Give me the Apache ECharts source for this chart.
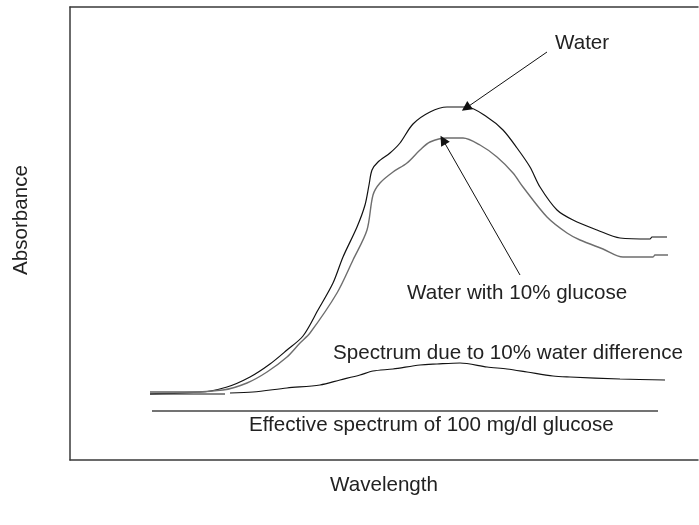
<!DOCTYPE html>
<html>
<head>
<meta charset="utf-8">
<script src="https://cdn.jsdelivr.net/npm/echarts@6/dist/echarts.min.js"></script>
<style>
html,body{margin:0;padding:0;background:#fff;}
#chart{width:699px;height:525px;}
</style>
</head>
<body>
<div id="chart"></div>
<script>
// Arbitrary units: [wavelength index, absorbance]
var water = [[80,68],[130,68],[157,73],[180,83],[200,96],[217,110],[233,124],[248,150],[263,177],[273,203],[287,233],[295,255],[299,275],[302,290],[308,298],[320,307],[330,317],[343,336],[360,348],[377,353],[397,353],[417,343],[433,330],[447,312],[460,293],[470,273],[487,250],[503,240],[527,230],[550,222],[580,221],[582,223],[597,223]];
var glucose = [[80,66],[153,70],[177,77],[197,88],[217,103],[230,117],[240,127],[267,167],[283,200],[297,230],[303,265],[310,277],[323,288],[337,297],[350,310],[360,318],[377,322],[393,322],[410,315],[427,303],[443,287],[453,273],[477,243],[497,227],[510,220],[533,211],[553,203],[583,203],[585,205],[598,205]];
var difference = [[80,66],[155,66],[157,'-'],[160,67],[183,68],[217,72],[250,75],[270,80],[290,85],[303,89],[323,91],[350,95],[367,96],[390,97],[417,93],[437,91],[457,88],[483,84],[500,83],[550,81],[595,80]];
var effective = [[82,49],[588,49]];
var waterArrow = [[477,408],[396,352]];
var glucoseArrow = [[450,185],[373,320]];
var labels = {
  water: 'Water',
  glucose: 'Water with 10% glucose',
  difference: 'Spectrum due to 10% water difference',
  effective: 'Effective spectrum of 100 mg/dl glucose',
  xName: 'Wavelength',
  yName: 'Absorbance'
};

var FONT = 'Liberation Sans, Arial, sans-serif';
var FS = 20.6;
var TXT = '#222';

var chart = echarts.init(document.getElementById('chart'), null, {renderer:'canvas'});
function arrowLine(pts){
  return {
    silent: true,
    symbol: ['none','triangle'],
    symbolSize: 10,
    label: {show:false},
    itemStyle: {color:'#111'},
    lineStyle: {color:'#111', width:1, type:'solid'},
    emphasis: {disabled:true},
    data: [[{coord: pts[0]}, {coord: pts[1]}]]
  };
}
var option = {
  animation: false,
  backgroundColor: '#fff',
  grid: {left:70, right:1, top:7, bottom:65, show:false},
  xAxis: [{
    type:'value', min:0, max:628, position:'bottom',
    name: labels.xName, nameLocation:'middle', nameGap:15,
    nameTextStyle:{fontFamily:FONT, fontSize:FS, color:TXT},
    axisLine:{show:true, onZero:false, lineStyle:{color:'#3a3a3a', width:1.5}},
    axisTick:{show:false}, axisLabel:{show:false}, splitLine:{show:false}
  },{
    type:'value', min:0, max:628, position:'top',
    axisLine:{show:true, onZero:false, lineStyle:{color:'#3a3a3a', width:1.5}},
    axisTick:{show:false}, axisLabel:{show:false}, splitLine:{show:false}
  }],
  yAxis: {
    type:'value', min:0, max:453,
    name: labels.yName, nameLocation:'middle', nameGap:38, nameRotate:90,
    nameTextStyle:{fontFamily:FONT, fontSize:FS, color:TXT, padding:[0,0,0,27]},
    axisLine:{show:true, onZero:false, lineStyle:{color:'#3a3a3a', width:1.5}},
    axisTick:{show:false}, axisLabel:{show:false}, splitLine:{show:false}
  },
  series: [
    {name:labels.water, type:'line', data:water, symbol:'none', smooth:0.3,
     lineStyle:{color:'#111', width:1.2}, markLine: arrowLine(waterArrow)},
    {name:labels.glucose, type:'line', data:glucose, symbol:'none', smooth:0.3,
     lineStyle:{color:'#6e6e6e', width:1.4}, markLine: arrowLine(glucoseArrow)},
    {name:labels.difference, type:'line', data:difference, symbol:'none', smooth:0.3, connectNulls:false,
     lineStyle:{color:'#111', width:1.2}},
    {name:labels.effective, type:'line', data:effective, symbol:'none',
     lineStyle:{color:'#444', width:1.3}}
  ],
  graphic: [
    {type:'text', left:555, top:45-12, style:{text:labels.water, font: FS+'px '+FONT, fill:TXT}},
    {type:'text', left:407, top:295-12, style:{text:labels.glucose, font: FS+'px '+FONT, fill:TXT}},
    {type:'text', left:333, top:355-12, style:{text:labels.difference, font: FS+'px '+FONT, fill:TXT}},
    {type:'text', left:249, top:427-12, style:{text:labels.effective, font: FS+'px '+FONT, fill:TXT}}
  ]
};
chart.setOption(option);
</script>
</body>
</html>
